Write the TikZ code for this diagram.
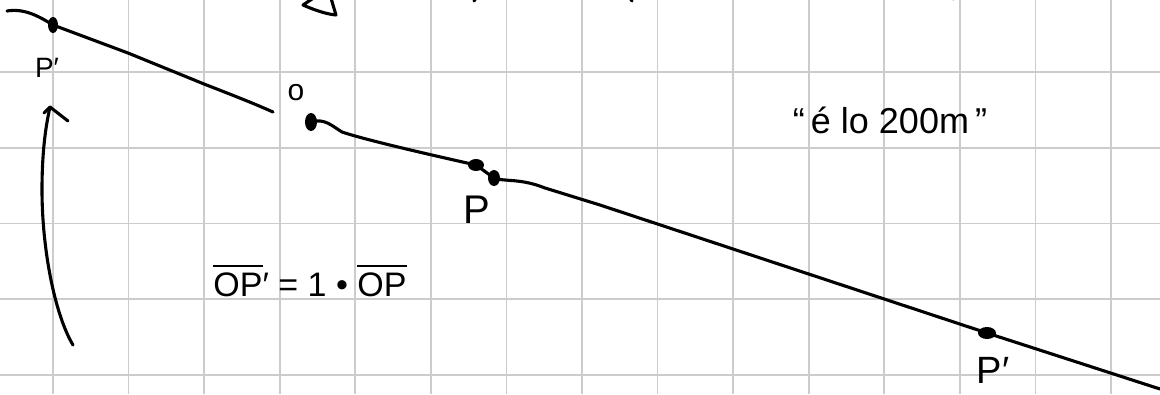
\documentclass[tikz,border=0pt]{standalone}
\usepackage{fontspec}
\setmainfont{Liberation Sans}
\usetikzlibrary{shapes.geometric}
\newcommand{\ovl}[1]{\leavevmode\vbox{\hrule height 2.4pt\kern5pt\hbox{#1}}}
\begin{document}
\begin{tikzpicture}[x=1pt,y=-1pt,
  ink/.style={line width=3.1pt, line cap=round, line join=round},
  gridline/.style={draw=black!20, line width=1.7pt},
  dot/.style={ellipse, fill, inner sep=0pt, minimum width=10pt, minimum height=13pt},
  lbl/.style={inner sep=0pt, font=\fontsize{40}{44}\selectfont}]
\useasboundingbox (0,0) rectangle (1160,394);
\fill[white] (0,0) rectangle (1160,394);
% grid
\foreach \i in {0,...,14} \draw[gridline] ({53+75.57*\i},0) -- ({53+75.57*\i},394);
\foreach \j in {0,...,4} \draw[gridline] (0,{72+75.75*\j}) -- (1160,{72+75.75*\j});
% dots
\node[dot, minimum width=10pt, minimum height=16pt] (pa) at (53,25) {};
\node[dot, minimum width=12pt, minimum height=18pt] (o) at (311,122) {};
\node[dot, minimum width=16pt, minimum height=12pt] (p) at (476,165) {};
\node[dot, minimum width=12pt, minimum height=16pt] (ps) at (494,178) {};
\node[dot, minimum width=18pt, minimum height=12pt] (pb) at (987,333) {};
% free ends
\coordinate (s1) at (7,11);
\coordinate (e1) at (273,112);
\coordinate (e2) at (1160,389);
% line 1
\draw[ink] (s1) .. controls (25,8) and (40,17) .. (pa.center)
  -- (128,53) -- (204,84) .. controls (240,98) and (255,104) .. (e1);
% line 2
\draw[ink] (o.center) .. controls (325,118) and (332,126) .. (342,132)
  .. controls (360,138) and (400,148) .. (p.center)
  -- (ps.center) .. controls (505,182) and (520,178) .. (545,188)
  -- (600,205) -- (pb.center) -- (e2);
% labels
\node[lbl, font=\fontsize{28}{30}\selectfont] (lpa) at (47,68) {P\char"2032};
\node[lbl, font=\fontsize{30}{32}\selectfont] (lo) at (296,93) {o};
\node[lbl] (lp) at (477,210) {P};
\node[lbl, font=\fontsize{38}{40}\selectfont] (lpb) at (993,370) {P\char"2032};
\node[lbl, font=\fontsize{36}{40}\selectfont] (txt) at (890,120) {\textquotedblleft\,é lo 200m\,\textquotedblright};
\node[lbl, font=\fontsize{34}{40}\selectfont, anchor=base] (eq) at (310,296) {\ovl{OP}\char"2032{} = 1 \textbullet{} \ovl{OP}};
% curved arrow
\coordinate (a0) at (73,345);
\coordinate (a1) at (50,107);
\draw[ink] (a0) .. controls (55,315) and (42,250) .. (42,190) .. controls (42,150) and (46,125) .. (a1);
\draw[ink] (44,113) -- (a1) -- (68,121);
% partial strokes at top edge
\draw[ink] (312,-1) -- (303,5) .. controls (312,9) and (325,14) .. (336,15) -- (333,5) -- (331,-2);
\draw[ink] (476,-2) -- (474,1);
\draw[ink] (630,-2) -- (632,1);
\draw[ink] (952,-3) -- (953,-1);
\end{tikzpicture}
\end{document}
